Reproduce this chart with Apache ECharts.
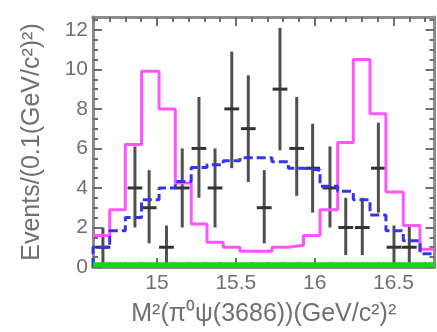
<!DOCTYPE html>
<html>
<head>
<meta charset="utf-8">
<script src="https://cdn.jsdelivr.net/npm/echarts@6/dist/echarts.min.js"></script>
<style>
html,body{margin:0;padding:0;background:#fff;}
#c{width:437px;height:332px;}
</style>
</head>
<body>
<div id="c"></div>
<script>
// ---- data ----
var pointX = [14.657, 14.860, 14.950, 15.060, 15.160, 15.266, 15.368, 15.474, 15.579, 15.680,
              15.780, 15.886, 15.987, 16.097, 16.197, 16.302, 16.404, 16.503, 16.600];
var pointY = [1, 4, 3, 1, 4, 6, 4, 8, 7, 3, 9, 6, 5, 4, 2, 2, 5, 1, 1];
var pointHi = [2.0, 6.1, 4.9, 2.1, 6.0, 8.6, 6.0, 10.9, 9.7, 4.9, 12.1, 8.6, 7.25, 6.1, 3.5, 3.5, 7.3, 2.1, 2.1];
var pointLo = [0, 2.0, 1.2, 0, 2.0, 3.5, 2.0, 5.0, 4.3, 1.2, 5.9, 3.6, 2.75, 2.0, 0.6, 0.6, 2.75, 0, 0];

var binEdges = [14.594, 14.700, 14.799, 14.902, 15.013, 15.116, 15.217, 15.317, 15.420, 15.526, 15.628,
                15.729, 15.833, 15.929, 16.034, 16.146, 16.245, 16.351, 16.452, 16.562, 16.668, 16.760];
var magentaVals = [1.6, 2.9, 6.2, 9.9, 8.0, 4.25, 2.17, 1.25, 1.0, 0.8, 0.8, 1.0, 1.1, 1.6, 2.9, 6.3, 10.5, 7.75, 3.8, 2.1, 0.9];
var blueVals = [1.0, 1.83, 2.5, 3.4, 4.0, 4.33, 5.03, 5.17, 5.38, 5.53, 5.53, 5.33, 5.0, 4.9, 4.08, 3.83, 3.4, 2.63, 1.83, 1.33, 0.67];
var greenX = [14.594, 16.760];
var greenY = [0.12, 0.12];

var xMajorTicks = [15, 15.5, 16, 16.5];
var xMinorTicks = [14.6, 14.7, 14.8, 14.9, 15.1, 15.2, 15.3, 15.4, 15.6, 15.7, 15.8, 15.9, 16.1, 16.2, 16.3, 16.4, 16.6, 16.7];
var yMajorTicks = [0, 2, 4, 6, 8, 10, 12];
var yMinorTicks = [0.5, 1, 1.5, 2.5, 3, 3.5, 4.5, 5, 5.5, 6.5, 7, 7.5, 8.5, 9, 9.5, 10.5, 11, 11.5, 12.5];

var X_MIN = 14.594, X_MAX = 16.760, Y_MIN = 0, Y_MAX = 12.65;

// ---- build series data ----
function stepData(vals, startFromZero) {
  var d = [];
  if (startFromZero) d.push([binEdges[0], 0]);
  for (var i = 0; i < vals.length; i++) d.push([binEdges[i], vals[i]]);
  d.push([binEdges[binEdges.length - 1], vals[vals.length - 1]]);
  return d;
}
var pts = pointX.map(function (x, i) { return [x, pointY[i], pointLo[i], pointHi[i]]; });
var greenData = greenX.map(function (x, i) { return [x, greenY[i]]; });

var frameColor = '#8c8c8c';
var tickColor = '#6e6e6e';
var textColor = '#707070';
var font = 'Liberation Sans';

function xAx(pos, ticks, len, extra) {
  var a = {
    type: 'value', min: X_MIN, max: X_MAX, position: pos,
    axisLine: { show: true, onZero: false, lineStyle: { color: frameColor, width: 3 } },
    axisTick: { show: true, inside: true, length: len, customValues: ticks, lineStyle: { color: tickColor, width: 2 } },
    axisLabel: { show: false },
    splitLine: { show: false }
  };
  for (var k in extra) a[k] = extra[k];
  return a;
}
function yAx(pos, ticks, len, extra) {
  var a = {
    type: 'value', min: Y_MIN, max: Y_MAX, position: pos,
    axisLine: { show: true, onZero: false, lineStyle: { color: frameColor, width: 3 } },
    axisTick: { show: true, inside: true, length: len, customValues: ticks, lineStyle: { color: tickColor, width: 2 } },
    axisLabel: { show: false },
    splitLine: { show: false }
  };
  for (var k in extra) a[k] = extra[k];
  return a;
}

var chart = echarts.init(document.getElementById('c'), null, { renderer: 'canvas' });
chart.setOption({
  animation: false,
  backgroundColor: '#fff',
  grid: { left: 93, right: 2.5, top: 17, bottom: 62, containLabel: false },
  xAxis: [
    xAx('bottom', xMajorTicks, 9, {
      axisLabel: { show: true, customValues: xMajorTicks, margin: 6, color: textColor, fontSize: 21, fontFamily: font },
      name: 'M²(π⁰ψ(3686))(GeV/c²)²', nameLocation: 'middle', nameGap: 35,
      nameTextStyle: { color: textColor, fontSize: 25, fontFamily: font }
    }),
    xAx('bottom', xMinorTicks, 5, {}),
    xAx('top', xMajorTicks, 9, {}),
    xAx('top', xMinorTicks, 5, {})
  ],
  yAxis: [
    yAx('left', yMajorTicks, 9, {
      axisLabel: { show: true, customValues: yMajorTicks, margin: 5, color: textColor, fontSize: 21, fontFamily: font },
      name: 'Events/(0.1(GeV/c²)²)', nameLocation: 'middle', nameGap: 48, nameRotate: 90,
      nameTextStyle: { color: textColor, fontSize: 25, fontFamily: font }
    }),
    yAx('left', yMinorTicks, 5, {}),
    yAx('right', yMajorTicks, 9, {}),
    yAx('right', yMinorTicks, 5, {})
  ],
  series: [
    {
      type: 'custom', xAxisIndex: 0, yAxisIndex: 0, z: 2,
      data: pts,
      encode: { x: 0, y: 1 },
      renderItem: function (params, api) {
        var x = api.value(0), y = api.value(1), lo = api.value(2), hi = api.value(3);
        var pT = api.coord([x, hi]), pB = api.coord([x, lo]);
        var pL = api.coord([x - 0.047, y]), pR = api.coord([x + 0.047, y]);
        return {
          type: 'group',
          children: [
            { type: 'line', shape: { x1: pT[0], y1: pT[1], x2: pB[0], y2: pB[1] },
              style: { stroke: '#505050', lineWidth: 3 } },
            { type: 'line', shape: { x1: pL[0], y1: pL[1], x2: pR[0], y2: pR[1] },
              style: { stroke: '#333333', lineWidth: 3 } }
          ]
        };
      }
    },
    {
      type: 'line', step: 'end', symbol: 'none', z: 3,
      data: stepData(magentaVals, false),
      lineStyle: { color: '#ff55ff', width: 3 }
    },
    {
      type: 'line', step: 'end', symbol: 'none', z: 4,
      data: stepData(blueVals, true),
      lineStyle: { color: '#3434ee', width: 3, type: [9, 4] }
    },
    {
      type: 'line', symbol: 'none', z: 5,
      data: greenData,
      lineStyle: { color: '#0bdc0b', width: 5 }
    }
  ]
});
</script>
</body>
</html>
